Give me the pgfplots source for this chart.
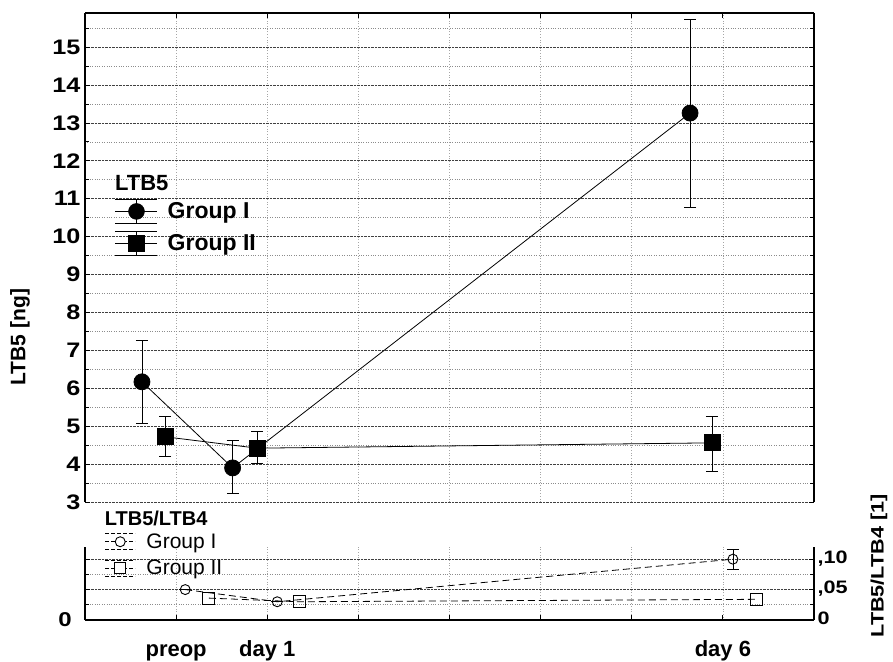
\documentclass[border=0pt]{standalone}
\usepackage{fontspec}
\setmainfont{Liberation Sans}
\newfontfamily\tickfont{Liberation Sans}[FakeStretch=1.2]
\usepackage{pgfplots}
\usepackage{pgfplotstable}
\pgfplotsset{compat=1.18}

\pgfplotstableread{
x y ep em
0.625 6.17 1.08 1.09
1.62 3.90 0.73 0.66
6.64 13.26 2.48 2.48
}\topA
\pgfplotstableread{
x y ep em
0.88 4.72 0.55 0.53
1.89 4.42 0.45 0.39
6.88 4.56 0.71 0.74
}\topB
\pgfplotstableread{
x y ep em
1.10 0.050 0 0
2.11 0.030 0 0
7.11 0.100 0.016 0.017
}\lowA
\pgfplotstableread{
x y ep em
1.36 0.036 0 0
2.35 0.030 0 0
7.37 0.034 0 0
}\lowB

\begin{document}
\begin{tikzpicture}
\useasboundingbox (0pt,0pt) rectangle (893pt,661pt);
% ---------------- upper panel ----------------
\begin{axis}[
  at={(85pt,159pt)}, anchor=south west, scale only axis,
  width=729pt, height=489pt,
  xmin=0, xmax=8, ymin=3, ymax=15.9, clip=false,
  axis x line*=top, axis y line*=box,
  axis line style={line width=1.3pt},
  xtick={1,...,7}, xticklabels={},
  ytick={3,...,15}, minor ytick={3.5,4.5,...,15.5},
  grid=both,
  major grid style={densely dotted, black!75, line width=0.7pt},
  minor grid style={dotted, black!45, line width=0.6pt},
  major x grid style={dotted, black!35, line width=0.6pt},
  major tick length=5pt, minor tick length=4pt,
  tick style={black, line width=0.8pt},
  yticklabel style={font=\fontsize{21}{22}\selectfont\tickfont\bfseries, xshift=-1pt},
  /pgf/number format/assume math mode=true,
  legend style={at={(axis description cs:0.041,0.620)}, anchor=north west,
    draw=none, fill=none, inner sep=0pt, row sep=7pt,
    font=\fontsize{23}{26}\selectfont\bfseries,
    nodes={inner sep=3pt}},
  legend cell align=left,
]
\addplot[forget plot, black, line width=0.8pt, mark=*, mark size=8pt, mark options={solid, fill=black},
  error bars/.cd, y dir=both, y explicit,
  error mark options={rotate=90, mark size=6pt, line width=0.8pt, black}]
  table[x=x, y=y, y error plus=ep, y error minus=em] {\topA};
\addplot[forget plot, black, line width=0.8pt, mark=square*, mark size=8pt, mark options={solid, fill=black},
  error bars/.cd, y dir=both, y explicit,
  error mark options={rotate=90, mark size=6pt, line width=0.8pt, black}]
  table[x=x, y=y, y error plus=ep, y error minus=em] {\topB};
\addlegendimage{legend image code/.code={
  \draw[black, line width=0.8pt] (0pt,0pt)--(42pt,0pt) (21pt,-12pt)--(21pt,12pt)
     (0pt,12pt)--(42pt,12pt) (0pt,-12pt)--(42pt,-12pt);
  \fill[black] (21pt,0pt) circle (8pt);
  \path (49pt,0pt);}}
\addlegendentry{Group I}
\addlegendimage{legend image code/.code={
  \draw[black, line width=0.8pt] (0pt,0pt)--(42pt,0pt) (21pt,-12pt)--(21pt,12pt)
     (0pt,12pt)--(42pt,12pt) (0pt,-12pt)--(42pt,-12pt);
  \fill[black] (13pt,-8pt) rectangle (29pt,8pt);
  \path (49pt,0pt);}}
\addlegendentry{Group II}
\node[anchor=west, inner sep=0pt, font=\fontsize{22}{24}\selectfont\bfseries]
  at (axis description cs:0.041,0.652) {LTB5};
\node[rotate=90, inner sep=0pt, font=\fontsize{21}{23}\selectfont\bfseries]
  at (axis description cs:-0.089,0.337) {LTB5 [ng]};
\end{axis}
% ---------------- lower panel ----------------
\begin{axis}[
  at={(85pt,41pt)}, anchor=south west, scale only axis,
  width=729pt, height=73pt,
  xmin=0, xmax=8, ymin=0, ymax=0.12, clip=false,
  axis x line*=bottom, axis y line*=box,
  axis line style={line width=1.3pt},
  xtick={1,...,7}, xticklabels={preop,day 1,,,,,day 6},
  typeset ticklabels with strut,
  xticklabel style={font=\fontsize{22}{24}\selectfont\bfseries, yshift=-16pt},
  ytick={0,0.05,0.1}, yticklabels={0,{,05},{,10}},
  minor ytick={0.025,0.075},
  yticklabel pos=right,
  yticklabel style={font=\fontsize{18}{20}\selectfont\tickfont\bfseries},
  grid=both,
  major grid style={densely dotted, black!75, line width=0.7pt},
  minor grid style={dotted, black!45, line width=0.6pt},
  major x grid style={dotted, black!35, line width=0.6pt},
  major tick length=5pt, minor tick length=4pt,
  tick style={black, line width=0.8pt},
  legend style={at={(axis description cs:0.027,1.213)}, anchor=north west,
    draw=none, fill=none, inner sep=0pt, row sep=6pt,
    font=\fontsize{21}{23}\selectfont,
    nodes={inner sep=2pt}},
  legend cell align=left,
]
\addplot[forget plot, black, line width=0.8pt, dash pattern=on 7pt off 4pt, mark=o, mark size=5pt,
  mark options={solid, fill=white, line width=0.9pt},
  error bars/.cd, y dir=both, y explicit,
  error mark options={rotate=90, mark size=6pt, line width=0.8pt, black},
  error bar style={solid, line width=0.8pt}]
  table[x=x, y=y, y error plus=ep, y error minus=em] {\lowA};
\addplot[forget plot, black, line width=0.8pt, dash pattern=on 7pt off 4pt, mark=square, mark size=6pt,
  mark options={solid, fill=white, line width=0.9pt}]
  table[x=x, y=y] {\lowB};
\addlegendimage{legend image code/.code={
  \draw[black, line width=0.7pt, dash pattern=on 4pt off 2pt] (0pt,0pt)--(30pt,0pt)
     (0pt,8pt)--(30pt,8pt) (0pt,-8pt)--(30pt,-8pt);
  \draw[black, fill=white, line width=0.9pt] (15pt,0pt) circle (5pt);
  \path (39pt,0pt);}}
\addlegendentry{Group I}
\addlegendimage{legend image code/.code={
  \draw[black, line width=0.7pt, dash pattern=on 4pt off 2pt] (0pt,0pt)--(30pt,0pt)
     (0pt,8pt)--(30pt,8pt) (0pt,-8pt)--(30pt,-8pt);
  \draw[black, fill=white, line width=0.9pt] (9.5pt,-5.5pt) rectangle (20.5pt,5.5pt);
  \path (39pt,0pt);}}
\addlegendentry{Group II}
\node[anchor=west, inner sep=0pt, font=\fontsize{20}{22}\selectfont\bfseries]
  at (axis description cs:0.027,1.397) {LTB5/LTB4};
\node[anchor=east, inner sep=0pt, font=\fontsize{20}{22}\selectfont\tickfont\bfseries]
  at (axis description cs:-0.018,0) {0};
\node[rotate=90, inner sep=0pt, font=\fontsize{18}{20}\selectfont\tickfont\bfseries]
  at (axis description cs:1.089,0.74) {LTB5/LTB4 [1]};
\end{axis}
\end{tikzpicture}
\end{document}
